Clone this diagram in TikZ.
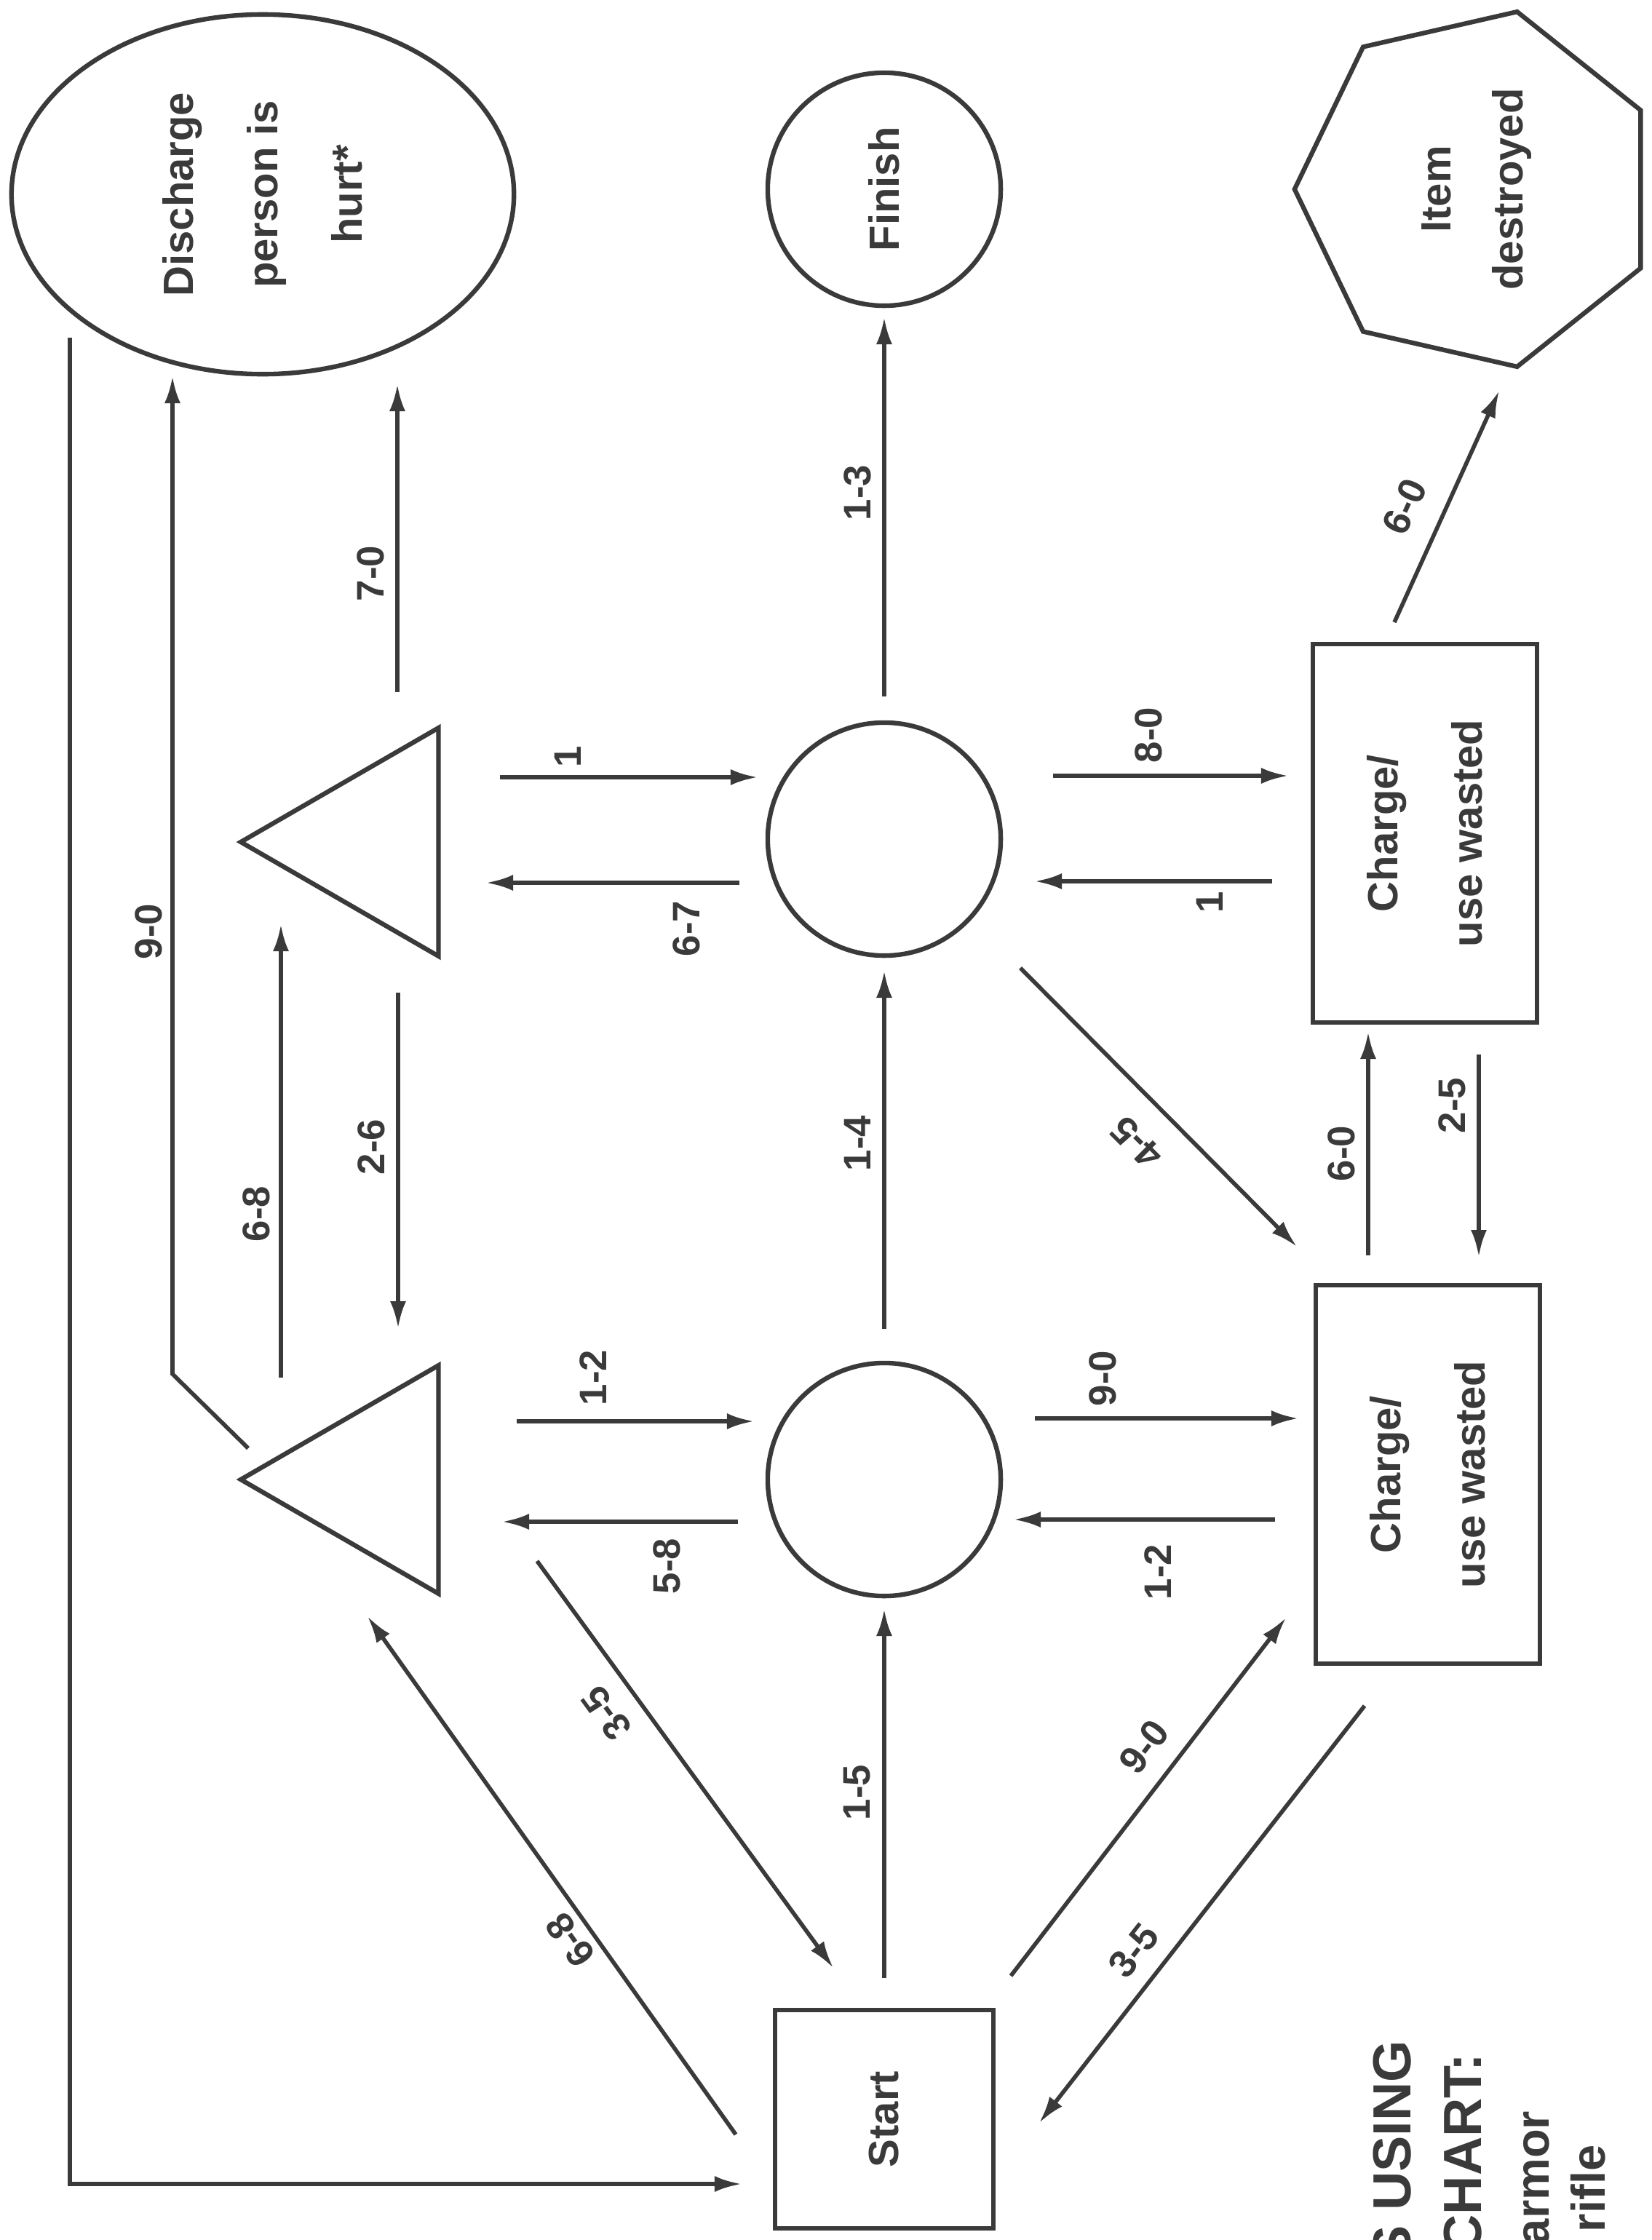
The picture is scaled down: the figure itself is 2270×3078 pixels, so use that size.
\documentclass[tikz,border=0pt]{standalone}
\usepackage{fontspec}
\setmainfont{Liberation Sans}
\usetikzlibrary{shapes.geometric, arrows.meta}
\definecolor{inkgrey}{HTML}{3A3A3A}
\tikzset{
  stage/.style={draw=inkgrey, line width=1.8pt, rotate=90, text=inkgrey, align=center, inner sep=0pt,
    font=\fontsize{16.5}{33}\selectfont\bfseries},
  box/.style={stage, rectangle, minimum width=5.2cm, minimum height=3.08cm},
  ring/.style={stage, circle, minimum size=3.2cm},
  tri/.style={stage, regular polygon, regular polygon sides=3, minimum size=3.62cm},
  arr/.style={draw=inkgrey, line width=1.6pt, -{Latex[length=3.7mm, width=2.2mm]}},
  num/.style={rotate=#1, text=inkgrey, inner sep=0pt, font=\fontsize{15}{15}\selectfont\bfseries},
  num/.default=90,
  heading/.style={rotate=90, text=inkgrey, inner sep=0pt, anchor=base east,
    font=\fontsize{21}{21}\selectfont\bfseries},
}
\begin{document}
\begin{tikzpicture}[x=0.01cm, y=-0.01cm]
    \useasboundingbox (0,0) rectangle (2270,3078);
    \clip (0,0) rectangle (2270,3078);
    \fill[white] (0,0) rectangle (2270,3078);

    %   End states along the top
    \node[stage, ellipse, minimum width=4.94cm, minimum height=6.9cm] (disch) at (361,267) {Discharge\\person is\\hurt*};
    \node[ring] (finish) at (1215,260) {Finish};
    \node[stage, regular polygon, regular polygon sides=7, minimum size=5cm, font=\fontsize{16.5}{28}\selectfont\bfseries] (item) at (2029,260) {Item\\destroyed};

    %   Middle rows
    \node[tri] (tri2) at (512,1157) {};
    \node[ring] (c2) at (1215,1153) {};
    \node[box] (box2) at (1958,1145) {Charge/\\use wasted};
    \node[tri] (tri1) at (512,2033) {};
    \node[ring] (c1) at (1215,2033) {};
    \node[box] (box1) at (1962,2026) {Charge/\\use wasted};

    %   Start
    \node[box, minimum width=3cm, minimum height=3cm] (start) at (1215,2912) {Start};

    %   Bend points
    \coordinate (bend9) at (237,1888);

    %   Connectors from Start
    \draw[arr] ([shift={(-204,21)}]start.center) -- ([shift={(-7,188)}]tri1.center);
    \draw[arr] ([shift={(226,112)}]tri1.center) -- ([shift={(-70,-208)}]start.center);
    \draw[arr] ([shift={(0,-194)}]start.center) -- ([shift={(0,178)}]c1.center);
    \draw[arr] ([shift={(174,-197)}]start.center) -- ([shift={(-195,197)}]box1.center);
    \draw[arr] ([shift={(-87,318)}]box1.center) -- ([shift={(213,5)}]start.center);

    %   Lower row
    \draw[arr] ([shift={(198,-80)}]tri1.center) -- ([shift={(-179,-80)}]c1.center);
    \draw[arr] ([shift={(-201,58)}]c1.center) -- ([shift={(178,58)}]tri1.center);
    \draw[arr] ([shift={(207,-84)}]c1.center) -- ([shift={(-178,-77)}]box1.center);
    \draw[arr] ([shift={(-210,62)}]box1.center) -- ([shift={(178,55)}]c1.center);

    %   Between the rows
    \draw[arr] ([shift={(0,-207)}]c1.center) -- ([shift={(0,181)}]c2.center);
    \draw[arr] ([shift={(-126,-140)}]tri1.center) -- ([shift={(-126,113)}]tri2.center);
    \draw[arr] ([shift={(35,207)}]tri2.center) -- ([shift={(35,-208)}]tri1.center);
    \draw[arr] ([shift={(187,177)}]c2.center) -- ([shift={(-180,-313)}]box1.center);
    \draw[arr] ([shift={(-82,-301)}]box1.center) -- ([shift={(-78,273)}]box2.center);
    \draw[arr] ([shift={(74,304)}]box2.center) -- ([shift={(70,-299)}]box1.center);

    %   Upper row
    \draw[arr] ([shift={(175,-89)}]tri2.center) -- ([shift={(-174,-85)}]c2.center);
    \draw[arr] ([shift={(-199,60)}]c2.center) -- ([shift={(156,56)}]tri2.center);
    \draw[arr] ([shift={(232,-87)}]c2.center) -- ([shift={(-188,-79)}]box2.center);
    \draw[arr] ([shift={(-210,66)}]box2.center) -- ([shift={(207,58)}]c2.center);

    %   Into the end states
    \draw[arr] ([shift={(-171,-43)}]tri1.center) -- (bend9) -- ([shift={(-124,250)}]disch.center);
    \draw[arr] ([shift={(34,-206)}]tri2.center) -- ([shift={(185,261)}]disch.center);
    \draw[arr] ([shift={(0,-196)}]c2.center) -- ([shift={(0,176)}]finish.center);
    \draw[arr] ([shift={(-42,-290)}]box2.center) -- ([shift={(31,277)}]item.center);
    \draw[arr] ([shift={(-265,197)}]disch.center) |- ([shift={(-196,89)}]start.center);

    %   Rolls
    \node[num=125.4] (l68a) at (784,2666) {6-8};
    \node[num=126] (l35a) at (833,2354) {3-5};
    \node[num] (l15) at (1178,2463) {1-5};
    \node[num=52.5] (l90a) at (1572,2400) {9-0};
    \node[num=52] (l35b) at (1558,2680) {3-5};
    \node[num] (l12a) at (815,1893) {1-2};
    \node[num] (l58) at (916,2152) {5-8};
    \node[num] (l90b) at (1515,1894) {9-0};
    \node[num] (l12b) at (1591,2160) {1-2};
    \node[num] (l14) at (1178,1571) {1-4};
    \node[num] (l68b) at (352,1668) {6-8};
    \node[num] (l26) at (510,1576) {2-6};
    \node[num] (l90c) at (204,1280) {9-0};
    \node[num] (l70) at (509,788) {7-0};
    \node[num] (l1a) at (780,1040) {1};
    \node[num] (l67) at (943,1276) {6-7};
    \node[num] (l13) at (1178,677) {1-3};
    \node[num] (l80) at (1578,1010) {8-0};
    \node[num] (l1b) at (1662,1240) {1};
    \node[num=135] (l45) at (1562,1570) {4-5};
    \node[num=65.6] (l60a) at (1930,696) {6-0};
    \node[num] (l60b) at (1843,1585) {6-0};
    \node[num] (l25) at (1995,1519) {2-5};

    %   Heading, cut by the page edge
    \node[heading] (ttl1) at (1938,2803) {S USING};
    \node[heading] (ttl2) at (2035,2821) {CHART:};
    \node[heading, font=\fontsize{18.5}{18.5}\selectfont\bfseries] (ttl3) at (2128,2900) {armor};
    \node[heading, font=\fontsize{18.5}{18.5}\selectfont\bfseries] (ttl4) at (2205,2947) {rifle};
\end{tikzpicture}
\end{document}
